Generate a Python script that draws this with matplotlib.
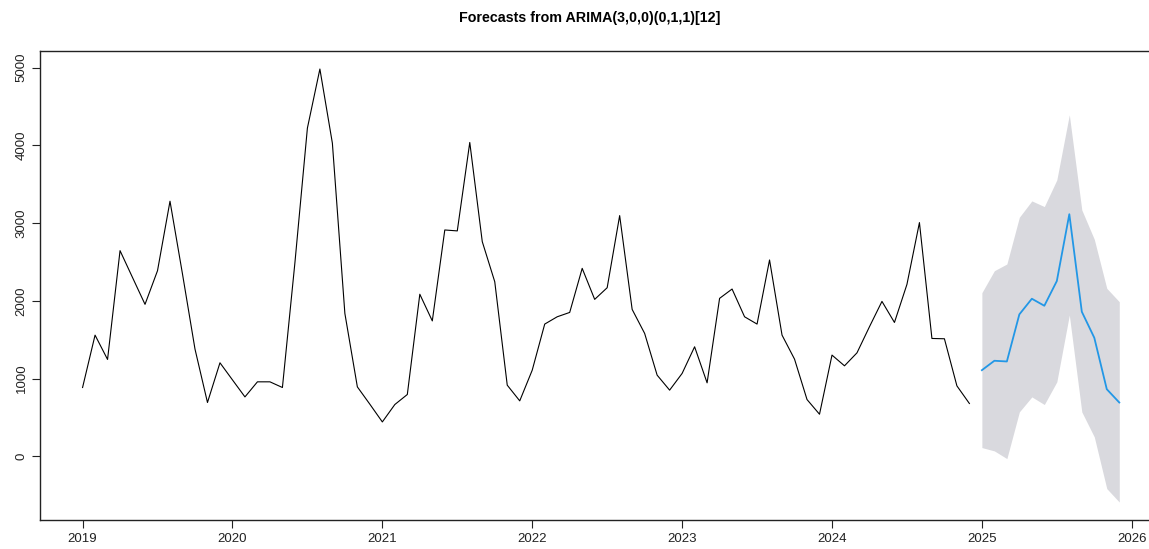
import numpy as np
import matplotlib
matplotlib.use("Agg")
import matplotlib.pyplot as plt

# observed monthly series, Jan 2019 .. Dec 2024
observed = [
    885, 1559, 1246, 2646, 2300, 1955, 2388, 3282, 2345, 1380, 692, 1203,
    983, 764, 958, 958, 885, 2490, 4223, 4983, 4029, 1838, 893, 670,
    442, 666, 795, 2085, 1742, 2912, 2900, 4038, 2762, 2246, 915, 713,
    1108, 1701, 1795, 1851, 2418, 2019, 2169, 3097, 1890, 1581, 1044, 851,
    1066, 1409, 945, 2032, 2152, 1795, 1701, 2526, 1559, 1250, 730, 541,
    1302, 1164, 1331, 1667, 1993, 1722, 2212, 3007, 1516, 1512, 906, 679,
]

# forecast Jan 2025 .. Dec 2025
fc_mean = [1108, 1229, 1220, 1826, 2027, 1937, 2255, 3115, 1860, 1525, 863, 692]
fc_upper = [2105, 2388, 2474, 3076, 3286, 3213, 3557, 4394, 3170, 2792, 2161, 1989]
fc_lower = [112, 69, -30, 571, 764, 666, 958, 1817, 571, 249, -416, -589]

years = [2019, 2020, 2021, 2022, 2023, 2024, 2025, 2026]
yticks = [0, 1000, 2000, 3000, 4000, 5000]
title = "Forecasts from ARIMA(3,0,0)(0,1,1)[12]"

t_obs = 2019 + np.arange(len(observed)) / 12
t_fc = 2025 + np.arange(len(fc_mean)) / 12

plt.rcParams['font.family'] = ['Liberation Sans', 'DejaVu Sans']

fig = plt.figure(figsize=(11.49, 5.49), dpi=100)
ax = fig.add_axes([40 / 1149, 29 / 549, 1120.7 / 1149, 469 / 549])

ax.fill_between(t_fc, fc_lower, fc_upper, color="#D9D9DE", linewidth=0)
ax.plot(t_obs, observed, color="black", linewidth=0.8)
ax.plot(t_fc, fc_mean, color="#2297E6", linewidth=1.3)

ax.set_xlim(2018.716, 2026.193)
ax.set_ylim(-820, 5215)

ax.set_xticks(years)
ax.set_xticklabels([str(y) for y in years])
ax.set_yticks(yticks)
ax.set_yticklabels([str(v) for v in yticks], rotation=90, va="center")
ax.tick_params(axis="both", direction="out", length=6, width=0.8,
               labelsize=9.5, colors="#222222")
ax.tick_params(axis="x", pad=3)
ax.tick_params(axis="y", pad=3)

for side in ["left", "bottom", "top", "right"]:
    ax.spines[side].set_linewidth(1.0)
    ax.spines[side].set_color("#222222")

fig.text(0.5 + 15 / 1149, 1 - 18 / 549, title, ha="center", va="center",
         fontsize=10.3, fontweight="bold")

fig.savefig("out.png", dpi=100)
